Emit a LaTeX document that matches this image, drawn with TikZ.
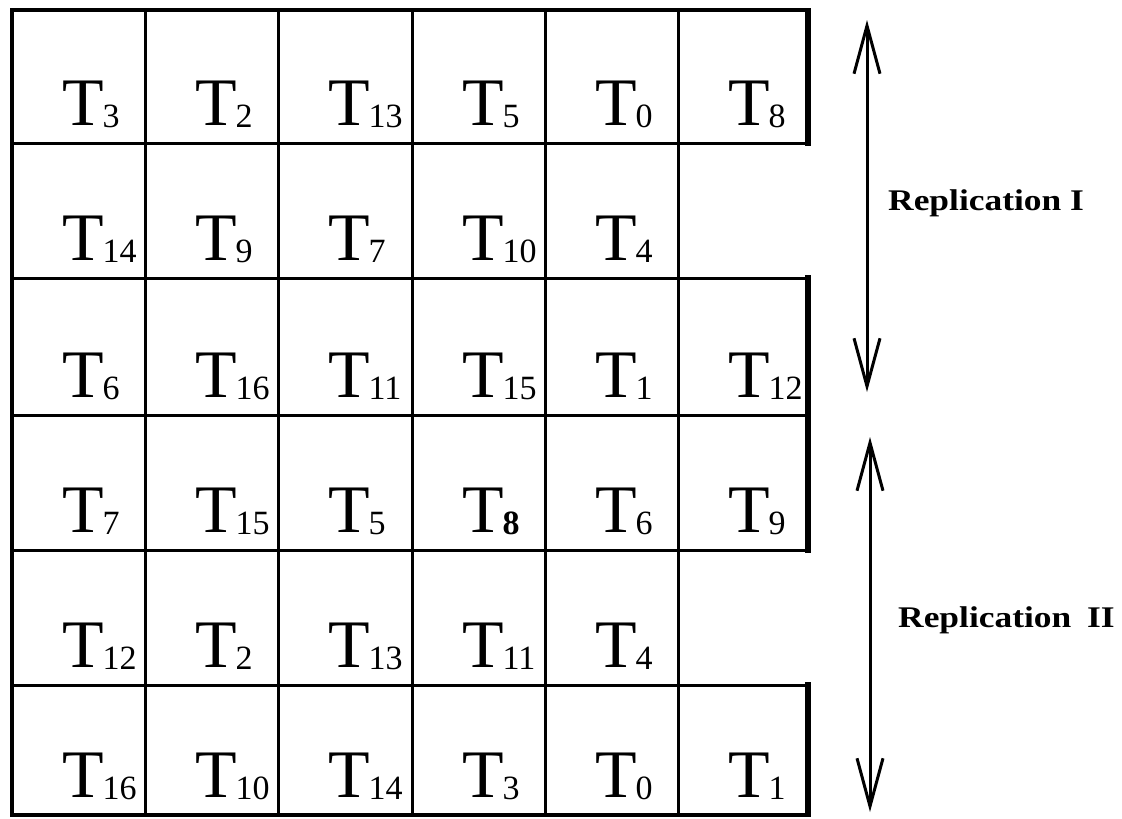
\documentclass[tikz,border=0pt]{standalone}
\usepackage{fontspec}
\setmainfont{Liberation Serif}
\usetikzlibrary{arrows.meta}
\newcommand\tlab[1]{T\kern-1pt\raisebox{-2pt}{\fontsize{34}{36}\selectfont #1}}
\begin{document}
\begin{tikzpicture}[x=1pt,y=-1pt,
  gridline/.style={line width=3pt},
  outerline/.style={line width=4pt},
  thickedge/.style={line width=6.5pt},
  cell/.style={anchor=base west, inner sep=0pt, font=\fontsize{68}{70}\selectfont},
  reparrow/.style={line width=3pt, {Straight Barb[length=48pt,width=26pt]}-{Straight Barb[length=48pt,width=26pt]}},
  replabel/.style={anchor=base west, inner sep=0pt, font=\bfseries\fontsize{30}{32}\selectfont}]
\useasboundingbox (0,0) rectangle (1122,819);

% horizontal lines
\foreach \y in {143,278,415,550,685} \draw[gridline] (12,\y) -- (808,\y);
\draw[outerline] (10,10) -- (810,10);
\draw[outerline] (10,815) -- (810,815);
% vertical lines
\foreach \x in {145,278,412,545,678} \draw[gridline] (\x,10) -- (\x,815);
\draw[outerline] (12,8) -- (12,817);
% thick right edges of the full rows
\draw[thickedge] (808,8) -- (808,146);
\draw[thickedge] (808,275) -- (808,553);
\draw[thickedge] (808,682) -- (808,817);

% cell labels
\foreach \row/\col/\lab in {
  1/1/3, 1/2/2, 1/3/13, 1/4/5, 1/5/0, 1/6/8,
  2/1/14, 2/2/9, 2/3/7, 2/4/10, 2/5/4,
  3/1/6, 3/2/16, 3/3/11, 3/4/15, 3/5/1, 3/6/12,
  4/1/7, 4/2/15, 4/3/5, 4/4/{\bfseries 8}, 4/5/6, 4/6/9,
  5/1/12, 5/2/2, 5/3/13, 5/4/11, 5/5/4,
  6/1/16, 6/2/10, 6/3/14, 6/4/3, 6/5/0, 6/6/1}
{
  \pgfmathsetmacro\xl{{12,145,278,412,545,678}[\col-1]+50}
  \pgfmathsetmacro\yb{{143,278,415,550,685,815}[\row-1]-18}
  \node[cell] (t-\row-\col) at (\xl,\yb) {\tlab{\lab}};
}

% replication arrows
\coordinate (a1top) at (867,20);
\coordinate (a1bot) at (867,392);
\coordinate (a2top) at (870,437);
\coordinate (a2bot) at (870,812);
\draw[reparrow] (a1top) -- (a1bot);
\draw[reparrow] (a2top) -- (a2bot);
\node[replabel] (rep1) at (888,210) {\scalebox{1.18}[1]{Replication I}};
\node[replabel] (rep2) at (898,627) {\scalebox{1.18}[1]{Replication\hspace{6pt} II}};
\end{tikzpicture}
\end{document}
